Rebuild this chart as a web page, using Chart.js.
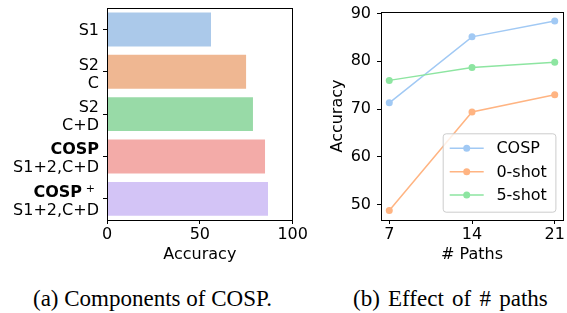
<!DOCTYPE html>
<html>
<head>
<meta charset="utf-8">
<script src="https://cdn.jsdelivr.net/npm/chart.js@4.4.0/dist/chart.umd.min.js"></script>
<style>
  body { margin: 0; background: #fff; }
  #wrap { position: relative; width: 567px; height: 313px; overflow: hidden; }
  canvas { position: absolute; left: 0; top: 0; }
  .cap { position: absolute; font-family: "Liberation Serif", serif; font-size: 23px; line-height: 1; white-space: nowrap; color: #000; }
</style>
</head>
<body>
<div id="wrap">
  <canvas id="barChart" width="567" height="270"></canvas>
  <canvas id="lineChart" width="567" height="270"></canvas>
  <div class="cap" style="left:33px;top:287px">(a) Components of COSP.</div>
  <div class="cap" style="left:353px;top:287px;word-spacing:2.5px">(b) Effect of # paths</div>
</div>
<script>
// (a) components
const componentNames = ['S1', 'S2\nC', 'S2\nC+D', 'COSP\nS1+2,C+D', 'COSP+\nS1+2,C+D'];
const boldFirstLine = [false, false, false, true, true];
const componentAcc = [56.0, 74.9, 78.6, 85.1, 86.7];
const componentColors = ['#abc9ea', '#efb792', '#98daa7', '#f3aba8', '#d3c4f6'];
const accTicks = [0, 50, 100];

// (b) number of paths
const numPaths = [7, 14, 21];
const cospAcc = [71.3, 85.1, 88.4];
const zeroShotAcc = [48.8, 69.4, 73.0];
const fiveShotAcc = [76.0, 78.7, 79.8];
const seriesNames = ['COSP', '0-shot', '5-shot'];
const seriesColors = ['#a1c9f4', '#ffb482', '#8de5a1'];
const pathTicks = [7, 14, 21];
const pathAccTicks = [50, 60, 70, 80, 90];

Chart.defaults.font.family = 'DejaVu Sans';
Chart.defaults.font.size = 16;
Chart.defaults.color = '#000';
Chart.defaults.animation = false;

// caixa completa em volta da area do grafico
const frame = {
  id: 'frame',
  afterDatasetsDraw(chart) {
    const { left, top, right, bottom } = chart.chartArea;
    const ctx = chart.ctx;
    ctx.save();
    ctx.strokeStyle = '#000';
    ctx.lineWidth = 1;
    const l = Math.floor(left) + 0.5, t = Math.floor(top) + 0.5;
    ctx.strokeRect(l, t, Math.floor(right) + 0.5 - l, Math.floor(bottom) + 0.5 - t);
    ctx.restore();
  }
};

// rotulos do eixo y com primeira linha em negrito
const componentLabels = {
  id: 'componentLabels',
  afterDraw(chart) {
    const ctx = chart.ctx;
    const ys = chart.scales.y;
    const x = chart.chartArea.left - 8;
    ctx.save();
    ctx.fillStyle = '#000';
    ctx.textAlign = 'right';
    ctx.textBaseline = 'alphabetic';
    componentNames.forEach((name, i) => {
      const yc = ys.getPixelForValue(i);
      const lines = name.split('\n');
      const offs = lines.length === 1 ? [6] : [-2, 16];
      lines.forEach((line, j) => {
        const y = yc + offs[j];
        if (j === 0 && boldFirstLine[i]) {
          ctx.font = 'bold 16px "DejaVu Sans"';
          if (line.endsWith('+')) {
            ctx.fillText(line.slice(0, -1), x - 17, y);
            ctx.font = '11px "DejaVu Sans"';
            ctx.fillText('+', x - 4, y - 4.5);
          } else {
            ctx.fillText(line, x, y);
          }
        } else {
          ctx.font = '16px "DejaVu Sans"';
          ctx.fillText(line, x, y);
        }
      });
    });
    ctx.restore();
  }
};

// legenda dentro do grafico, canto inferior direito
const innerLegend = {
  id: 'innerLegend',
  afterDraw(chart) {
    const ctx = chart.ctx;
    const { right, bottom } = chart.chartArea;
    const w = 112.7, h = 78.4;
    const x0 = right - 7.6 - w, y0 = bottom - 8.3 - h;
    ctx.save();
    ctx.beginPath();
    ctx.roundRect(x0 + 0.5, y0 + 0.5, w, h, 3);
    ctx.fillStyle = 'rgba(255,255,255,0.8)';
    ctx.fill();
    ctx.strokeStyle = '#cccccc';
    ctx.lineWidth = 1;
    ctx.stroke();
    chart.data.datasets.forEach((ds, i) => {
      const y = y0 + 15 + i * 23.35;
      ctx.strokeStyle = ds.borderColor;
      ctx.lineWidth = 1.5;
      ctx.beginPath();
      ctx.moveTo(x0 + 7, y);
      ctx.lineTo(x0 + 41, y);
      ctx.stroke();
      ctx.fillStyle = ds.borderColor;
      ctx.beginPath();
      ctx.arc(x0 + 24, y, 3.5, 0, Math.PI * 2);
      ctx.fill();
      ctx.fillStyle = '#000';
      ctx.font = '16px "DejaVu Sans"';
      ctx.textAlign = 'left';
      ctx.textBaseline = 'middle';
      ctx.fillText(ds.label, x0 + 53.7, y + 1);
    });
    ctx.restore();
  }
};

const tickGrid = { drawOnChartArea: false, drawTicks: true, tickLength: 4, color: '#000', lineWidth: 1 };

new Chart(document.getElementById('barChart'), {
  type: 'bar',
  data: {
    labels: componentNames,
    datasets: [{
      data: componentAcc,
      backgroundColor: componentColors,
      borderWidth: 0,
      categoryPercentage: 1.0,
      barPercentage: 0.8
    }]
  },
  options: {
    responsive: false,
    indexAxis: 'y',
    layout: { padding: { left: 0, right: 274.3, top: 8.3, bottom: 5.1 } },
    plugins: { legend: { display: false }, tooltip: { enabled: false } },
    scales: {
      y: {
        type: 'category',
        ticks: { display: false },
        grid: Object.assign({}, tickGrid, { offset: false }),
        border: { display: false },
        afterFit: s => { s.width = 107; s.paddingTop = 0; s.paddingBottom = 0; }
      },
      x: {
        type: 'linear',
        min: 0,
        max: 100,
        afterBuildTicks: s => { s.ticks = accTicks.map(v => ({ value: v })); },
        ticks: { padding: 1.5, maxRotation: 0 },
        grid: tickGrid,
        border: { display: false },
        title: { display: true, text: 'Accuracy', padding: 0, font: { size: 16 } },
        afterFit: s => { s.height = 44.9; s.paddingLeft = 0; s.paddingRight = 0; }
      }
    }
  },
  plugins: [frame, componentLabels]
});

const toPoints = arr => numPaths.map((p, i) => ({ x: p, y: arr[i] }));

new Chart(document.getElementById('lineChart'), {
  type: 'line',
  data: {
    datasets: [cospAcc, zeroShotAcc, fiveShotAcc].map((arr, i) => ({
      label: seriesNames[i],
      data: toPoints(arr),
      borderColor: seriesColors[i],
      backgroundColor: seriesColors[i],
      pointBackgroundColor: seriesColors[i],
      pointBorderWidth: 0,
      pointRadius: 3.5,
      borderWidth: 1.5,
      tension: 0,
      order: 2 - i
    }))
  },
  options: {
    responsive: false,
    layout: { padding: { left: 328.4, right: 2.7, top: 12, bottom: 5.1 } },
    plugins: { legend: { display: false }, tooltip: { enabled: false } },
    scales: {
      x: {
        type: 'linear',
        min: 6.3,
        max: 21.7,
        afterBuildTicks: s => { s.ticks = pathTicks.map(v => ({ value: v })); },
        ticks: { padding: 1.5, maxRotation: 0 },
        grid: tickGrid,
        border: { display: false },
        title: { display: true, text: '# Paths', padding: 0, font: { size: 16 } },
        afterFit: s => { s.height = 44.9; s.paddingLeft = 0; s.paddingRight = 0; }
      },
      y: {
        type: 'linear',
        min: 46.8,
        max: 90.3,
        afterBuildTicks: s => { s.ticks = pathAccTicks.map(v => ({ value: v })); },
        ticks: { padding: 6 },
        grid: tickGrid,
        border: { display: false },
        title: { display: true, text: 'Accuracy', padding: 0, font: { size: 16 } },
        afterFit: s => { s.width = 52.6; s.paddingTop = 0; s.paddingBottom = 0; }
      }
    }
  },
  plugins: [frame, innerLegend]
});
</script>
</body>
</html>
